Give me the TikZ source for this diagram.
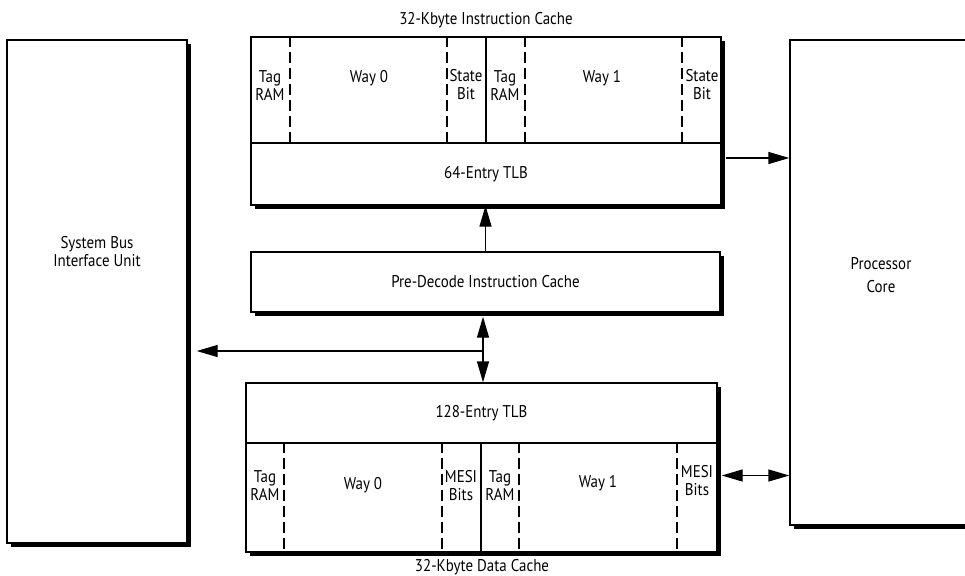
\documentclass[tikz,border=0pt]{standalone}
\usepackage{fontspec}
\setmainfont{PT Sans}[FakeStretch=0.88]
\usepackage{tikz}
\usetikzlibrary{arrows.meta,shadows}
\newcommand{\labelfont}{\fontsize{17}{18}\selectfont}
% dashed / solid column lines inside a row of ways
\newcommand{\cachecols}[6]{%
  \foreach \cx in {#2,#3,#5,#6}{\draw[waydash] (\cx,0 |- #1.north) -- (\cx,0 |- #1.south);}
  \draw[waysolid] (#4,0 |- #1.north) -- (#4,0 |- #1.south);}

\begin{document}
\begin{tikzpicture}[x=1pt,y=-1pt,>={Triangle[length=21pt,width=12pt]},
  unitbox/.style={draw,line width=1.4pt,fill=white,inner sep=0pt,align=center,font=\labelfont,
    drop shadow={shadow xshift=4pt,shadow yshift=-4pt,fill=black,opacity=1}},
  txt/.style={inner sep=0pt,align=center,font=\labelfont},
  waydash/.style={line width=1.3pt,dash pattern=on 11pt off 5pt},
  waysolid/.style={line width=1.4pt},
  link/.style={line width=1.4pt}]
\useasboundingbox (0,0) rectangle (965,575);
\clip (0,0) rectangle (965,575);
% ---- outer units ----
\node[unitbox,minimum width=180pt,minimum height=503pt] (sbiu) at (97,291.5) {};
\node[txt] (sbiulabel) at (97,252) {System Bus\\Interface Unit};
\node[unitbox,minimum width=182pt,minimum height=485pt] (core) at (881,282.5) {};
\node[txt] (corelabel) at (881,275) {Processor\\[5pt]Core};
% ---- instruction cache ----
\node[txt] (icachelabel) at (486,20) {32-Kbyte Instruction Cache};
\node[unitbox,minimum width=470pt,minimum height=106pt] (iways) at (486,90) {};
\node[unitbox,minimum width=470pt,minimum height=62pt] (itlb) at (486,174) {64-Entry TLB};
\cachecols{iways}{290}{447}{486}{525}{682}
\foreach \x/\y/\t/\n in {270/86/{Tag\\RAM}/itag0,369/78/{Way 0}/iway0,466/85/{State\\Bit}/istate0,
  505/86/{Tag\\RAM}/itag1,602/78/{Way 1}/iway1,702/85/{State\\Bit}/istate1}
  \node[txt] (\n) at (\x,\y) {\t};
% ---- pre-decode ----
\node[unitbox,minimum width=469pt,minimum height=60pt] (predec) at (485.5,282) {Pre-Decode Instruction Cache};
% ---- data cache ----
\node[unitbox,minimum width=471pt,minimum height=60pt] (dtlb) at (481.5,413) {128-Entry TLB};
\node[unitbox,minimum width=471pt,minimum height=109pt] (dways) at (481.5,497.5) {};
\cachecols{dways}{284}{442}{481}{519}{677}
\foreach \x/\y/\t/\n in {265/486/{Tag\\RAM}/dtag0,363/485/{Way 0}/dway0,461/486/{MESI\\Bits}/dmesi0,
  500/486/{Tag\\RAM}/dtag1,598/483/{Way 1}/dway1,697/481/{MESI\\Bits}/dmesi1}
  \node[txt] (\n) at (\x,\y) {\t};
\node[txt] (dcachelabel) at (482,567) {32-Kbyte Data Cache};
% ---- connections ----
\coordinate (tap) at (483,351);
\coordinate (iout) at ([yshift=16pt]itlb.east);
\coordinate (dio) at ([yshift=22pt]dways.east);
\draw[link,->] (predec.north) -- (predec.north |- itlb.south);
\draw[link,<->,shorten <=4pt] (predec.south -| tap) -- (dtlb.north -| tap);
\draw[link,->,shorten >=9pt] (tap) -- (sbiu.east |- tap);
\draw[link,->,shorten <=4pt] (iout) -- (iout -| core.west);
\draw[link,<->,shorten <=4pt] (dio) -- (dio -| core.west);
\end{tikzpicture}
\end{document}
